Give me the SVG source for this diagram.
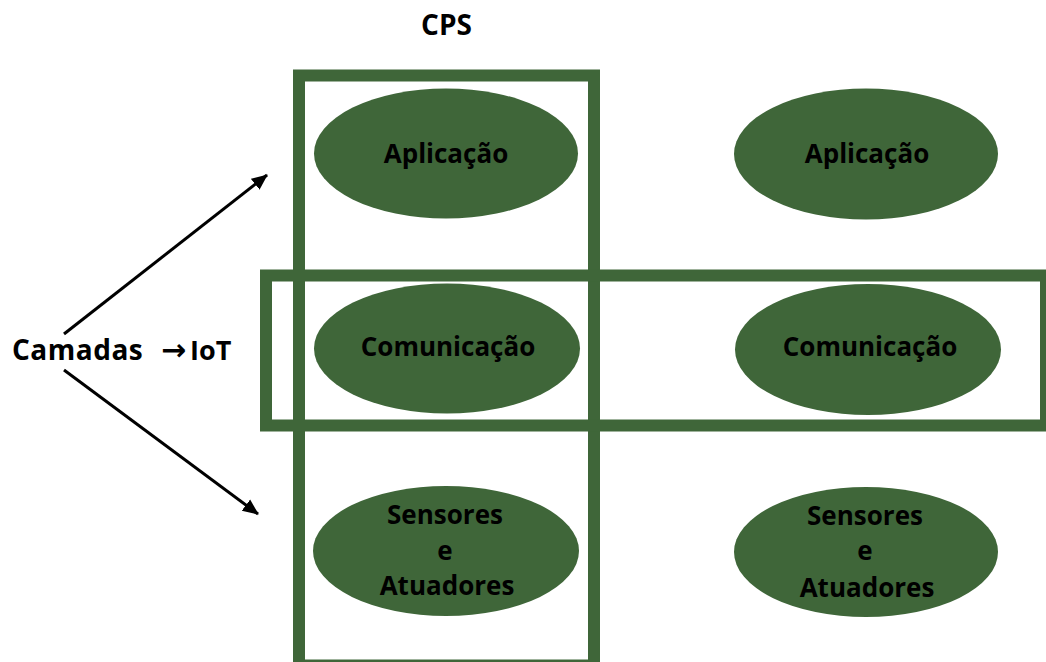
<svg xmlns="http://www.w3.org/2000/svg" width="1046" height="662" viewBox="0 0 1046 662">
<defs>
<style>
.frame{fill:none;stroke:#3f6639;stroke-width:12}
.node{fill:#3f6639}
.lbl{font-family:"Open Sans","Noto Sans","DejaVu Sans",sans-serif;font-weight:bold;font-size:26px;fill:#000;text-anchor:middle}
.big{font-family:"Open Sans","Noto Sans","DejaVu Sans",sans-serif;font-weight:bold;fill:#000}
.conn{stroke:#000;stroke-width:3;fill:none}
</style>
<marker id="ah" markerUnits="userSpaceOnUse" markerWidth="16" markerHeight="16" refX="15" refY="8" orient="auto">
<path d="M0,1 L16,8 L0,15 Z" fill="#000"/>
</marker>
</defs>
<rect width="1046" height="662" fill="#fff"/>
<g id="frames">
<rect id="cps-frame" class="frame" x="299" y="75.5" width="295" height="590"/>
<rect id="iot-frame" class="frame" x="266" y="275.5" width="780" height="150"/>
</g>
<g id="connectors">
<line class="conn" x1="64" y1="334" x2="267" y2="175" marker-end="url(#ah)"/>
<line class="conn" x1="64" y1="370" x2="258" y2="514" marker-end="url(#ah)"/>
</g>
<g id="title-cps"><text class="big" x="446.5" y="35" font-size="28" text-anchor="middle">CPS</text></g>
<g id="label-camadas"><text class="big" x="12" y="359.5" font-size="28" letter-spacing="0.5">Camadas</text></g>
<g id="label-iot"><text class="big" x="161" y="359.5" font-size="27"><tspan font-family="'DejaVu Sans',sans-serif" font-size="30">→</tspan><tspan x="190">IoT</tspan></text></g>
<g id="n-aplic-1"><ellipse class="node" cx="446" cy="153.5" rx="132" ry="65"/><text class="lbl" x="446" y="163">Aplicação</text></g>
<g id="n-aplic-2"><ellipse class="node" cx="866" cy="154" rx="132" ry="65.5"/><text class="lbl" x="867" y="163">Aplicação</text></g>
<g id="n-com-1"><ellipse class="node" cx="447" cy="348.5" rx="133" ry="65"/><text class="lbl" x="448" y="356">Comunicação</text></g>
<g id="n-com-2"><ellipse class="node" cx="868" cy="349.5" rx="133" ry="65.5"/><text class="lbl" x="870" y="356">Comunicação</text></g>
<g id="n-sens-1"><ellipse class="node" cx="446" cy="551" rx="133" ry="65"/><text class="lbl" x="445" y="524">Sensores</text><text class="lbl" x="445" y="559.5">e</text><text class="lbl" x="447" y="595">Atuadores</text></g>
<g id="n-sens-2"><ellipse class="node" cx="866" cy="552" rx="132" ry="65"/><text class="lbl" x="865" y="525">Sensores</text><text class="lbl" x="865" y="560">e</text><text class="lbl" x="867" y="596.5">Atuadores</text></g>
</svg>
